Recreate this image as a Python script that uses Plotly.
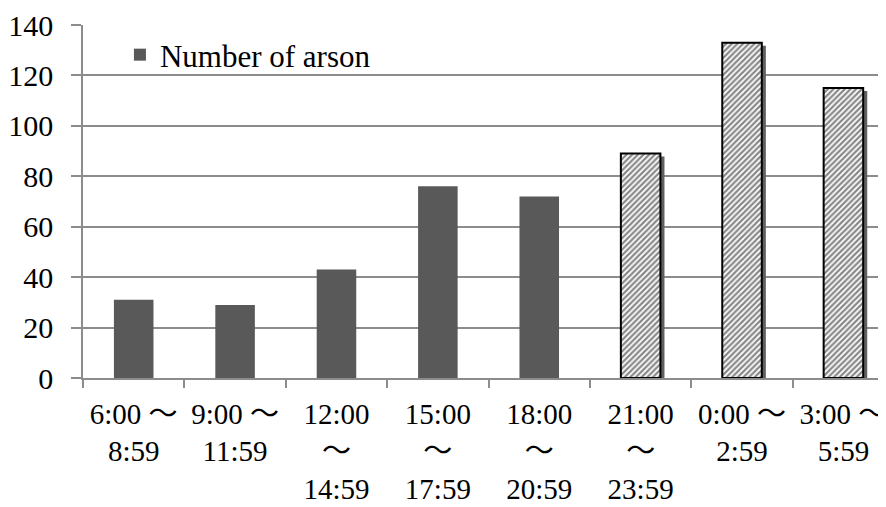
import plotly.graph_objects as go

categories = ["6:00 ～<br>8:59", "9:00 ～<br>11:59", "12:00<br>～<br>14:59",
              "15:00<br>～<br>17:59", "18:00<br>～<br>20:59", "21:00<br>～<br>23:59",
              "0:00 ～<br>2:59", "3:00 ～<br>5:59"]
day_values = [31, 29, 43, 76, 72]
night_values = [89, 133, 115]
series_name = "Number of arson"
y_ticks = [0, 20, 40, 60, 80, 100, 120, 140]

day_cats = categories[:5]
night_cats = categories[5:]

FONT = "Liberation Serif, Times New Roman, Noto Sans CJK JP, serif"
BW = 0.39
shadow_dx = 0.04
shadow_dy = 1.2

fig = go.Figure()
fig.add_trace(go.Bar(
    x=day_cats, y=day_values, name=series_name,
    marker=dict(color="#595959", line=dict(width=0)),
    width=BW, offset=-BW / 2, showlegend=True,
))
# shadow for hatched bars
fig.add_trace(go.Bar(
    x=night_cats, y=[v - shadow_dy for v in night_values],
    marker=dict(color="#606060", line=dict(width=0)),
    width=BW, offset=-BW / 2 + shadow_dx, showlegend=False, hoverinfo="skip",
))
fig.add_trace(go.Bar(
    x=night_cats, y=night_values, name=series_name,
    marker=dict(color="white", line=dict(color="black", width=2),
                pattern=dict(shape="/", fgcolor="#111111", bgcolor="white",
                             size=4, solidity=0.55)),
    width=BW, offset=-BW / 2, showlegend=False,
))

fig.update_layout(
    width=878, height=499,
    margin=dict(l=75, r=0, t=17, b=129),
    paper_bgcolor="white", plot_bgcolor="white",
    barmode="overlay",
    font=dict(family=FONT, size=30, color="black"),
    showlegend=True,
    legend=dict(x=0.046, y=0.915, xanchor="left", yanchor="middle",
                bgcolor="rgba(0,0,0,0)", font=dict(size=31, family=FONT),
                itemwidth=30),
    xaxis=dict(
        type="category", categoryorder="array", categoryarray=categories,
        range=[-0.5, 7.42], automargin=False, tickangle=0,
        showgrid=False, showline=True, linecolor="#8c8c8c", linewidth=1.5,
        ticks="outside", tickson="boundaries", ticklen=8, tickcolor="#8c8c8c",
        tickwidth=1.5, ticklabelstandoff=9,
        tickfont=dict(size=29, family=FONT),
    ),
    yaxis=dict(
        range=[0, 140], tickvals=y_ticks, automargin=False,
        showgrid=True, gridcolor="#8c8c8c", gridwidth=1.5,
        showline=True, linecolor="#8c8c8c", linewidth=1.5,
        ticks="outside", ticklen=10, tickcolor="#8c8c8c", tickwidth=1.5,
        ticklabelstandoff=12, zeroline=False,
        tickfont=dict(size=30, family=FONT),
    ),
)

fig.write_html("out.html")
